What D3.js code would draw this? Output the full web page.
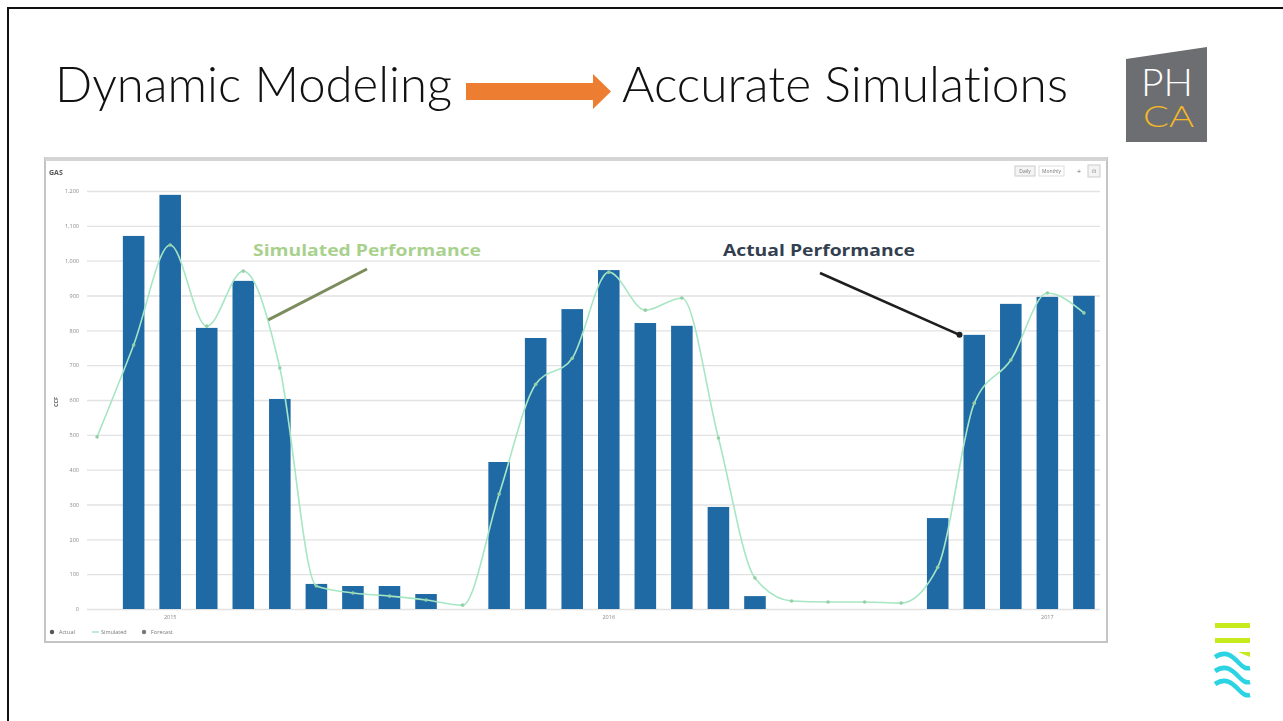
<!DOCTYPE html>
<html>
<head>
<meta charset="utf-8">
<script src="https://cdn.jsdelivr.net/npm/d3@7"></script>
<style>
  html, body { margin: 0; padding: 0; background: #fff; }
  svg { display: block; }
  text { font-variant-ligatures: none; }
</style>
</head>
<body>
<svg id="slide" width="1283" height="721"></svg>
<script>
// Monthly gas usage: metered (actual) vs. modeled (simulated)
const months = [
  "2014-11","2014-12","2015-01","2015-02","2015-03","2015-04","2015-05",
  "2015-06","2015-07","2015-08","2015-09","2015-10","2015-11","2015-12",
  "2016-01","2016-02","2016-03","2016-04","2016-05","2016-06","2016-07",
  "2016-08","2016-09","2016-10","2016-11","2016-12","2017-01","2017-02"
];
const actual = [
  null, 1071, 1189, 807, 942, 603, 72,
  66, 66, 43, null, 422, 778, 861,
  973, 821, 813, 293, 37, null, null,
  null, null, 261, 787, 876, 896, 899
];
const simulated = [
  494, 758, 1045, 812, 970, 692, 66,
  46, 37, 26, 11, 330, 645, 720,
  967, 858, 893, 491, 89, 23, 20,
  20, 17, 120, 591, 715, 907, 850
];
const yTicks = [0, 100, 200, 300, 400, 500, 600, 700, 800, 900, 1000, 1100, 1200];
const yearTicks = ["2015-01", "2016-01", "2017-01"];
const legendItems = ["Actual", "Simulated", "Forecast"];

const svg = d3.select("#slide");

// slide frame
svg.append("path").attr("d", "M8,721 V8 H1283")
  .attr("fill", "none").attr("stroke", "#111").attr("stroke-width", 2);

// headline with arrow
const titleFont = "Lato, 'Open Sans', sans-serif";
svg.append("text").attr("x", 55).attr("y", 102)
  .attr("font-family", titleFont).attr("font-weight", 300).attr("font-size", 50)
  .attr("textLength", 397).attr("lengthAdjust", "spacingAndGlyphs")
  .attr("fill", "#111").text("Dynamic Modeling");
svg.append("text").attr("x", 622).attr("y", 102)
  .attr("font-family", titleFont).attr("font-weight", 300).attr("font-size", 50)
  .attr("textLength", 446).attr("lengthAdjust", "spacingAndGlyphs")
  .attr("fill", "#111").text("Accurate Simulations");
svg.append("path")
  .attr("d", "M466,83 H593 V74 L611,91.5 L593,109 V100 H466 Z")
  .attr("fill", "#ED7D31");

// PHCA mark
const phca = svg.append("g");
phca.append("path").attr("d", "M1126,59 L1207,47 V142 H1126 Z").attr("fill", "#6d6e71");
phca.append("text").attr("x", 1141).attr("y", 96).attr("font-size", 37)
  .attr("font-family", titleFont).attr("font-weight", 300)
  .attr("textLength", 52).attr("lengthAdjust", "spacingAndGlyphs")
  .attr("fill", "#fff").text("PH");
phca.append("text").attr("x", 1143).attr("y", 127).attr("font-size", 29)
  .attr("font-family", titleFont).attr("font-weight", 300)
  .attr("textLength", 51).attr("lengthAdjust", "spacingAndGlyphs")
  .attr("fill", "#f4b926").text("CA");

// wave mark, bottom right
const wave = svg.append("g");
wave.append("rect").attr("x", 1215).attr("y", 623).attr("width", 35).attr("height", 5).attr("fill", "#c6ea1c");
wave.append("rect").attr("x", 1215).attr("y", 638).attr("width", 35).attr("height", 5).attr("fill", "#c6ea1c");
wave.append("path").attr("d", "M1238,652 H1250 V657 Z").attr("fill", "#c6ea1c");
[0, 14, 27].forEach(dy => {
  wave.append("path")
    .attr("d", `M1215,${657 + dy} C1226,${650 + dy} 1232,${656 + dy} 1238,${662 + dy} S1246,${669 + dy} 1250,${668 + dy}`)
    .attr("fill", "none").attr("stroke", "#2cd3e3").attr("stroke-width", 4.5);
});

// chart panel
const panel = svg.append("g");
panel.append("rect").attr("x", 45).attr("y", 158).attr("width", 1062).attr("height", 484)
  .attr("fill", "#fff").attr("stroke", "#c4c4c4").attr("stroke-width", 2);
panel.append("rect").attr("x", 45).attr("y", 157).attr("width", 1062).attr("height", 4).attr("fill", "#d4d4d4");

const soft = svg.append("defs").append("filter").attr("id", "soft");
soft.append("feGaussianBlur").attr("stdDeviation", 0.55);

const x = d3.scaleBand().domain(months).range([79, 1102]).paddingInner(0.41).paddingOuter(0.2);
const y = d3.scaleLinear().domain([0, 1200]).range([609, 191]);
const cx = m => x(m) + x.bandwidth() / 2;
const gridLeft = 87, gridRight = 1100;

const chart = panel.append("g");

// grid + value axis
const yAxis = d3.axisLeft(y).tickValues(yTicks).tickSize(-(gridRight - gridLeft))
  .tickPadding(8).tickFormat(d3.format(","));
chart.append("g").attr("transform", `translate(${gridLeft},0)`)
  .call(yAxis)
  .call(g => g.select(".domain").remove())
  .call(g => g.selectAll(".tick line").attr("stroke", "#e2e2e2").attr("stroke-width", 1.4))
  .call(g => g.selectAll(".tick text").attr("fill", "#888").attr("font-size", 5.5)
    .attr("font-family", "'Open Sans', sans-serif").attr("filter", "url(#soft)"));

// year axis
const xAxis = d3.axisBottom(x).tickValues(yearTicks).tickSize(0).tickPadding(5)
  .tickFormat(m => m.slice(0, 4));
chart.append("g").attr("transform", "translate(0,610)")
  .call(xAxis)
  .call(g => g.select(".domain").remove())
  .call(g => g.selectAll(".tick text").attr("fill", "#888").attr("font-size", 5.5)
    .attr("font-family", "'Open Sans', sans-serif").attr("filter", "url(#soft)"));

// labels inside the panel
chart.append("text").attr("x", 49).attr("y", 175).attr("font-size", 7).attr("font-weight", 700)
  .attr("font-family", "'Open Sans', sans-serif").attr("fill", "#555").attr("filter", "url(#soft)").text("GAS");
chart.append("text").attr("transform", "translate(58,402) rotate(-90)").attr("text-anchor", "middle")
  .attr("font-size", 5.5).attr("font-weight", 700).attr("font-family", "'Open Sans', sans-serif")
  .attr("fill", "#555").attr("filter", "url(#soft)").text("CCF");

// bars
chart.append("g").selectAll("rect")
  .data(months.map((m, i) => ({ m, v: actual[i] })).filter(d => d.v !== null))
  .join("rect")
  .attr("x", d => x(d.m)).attr("width", x.bandwidth())
  .attr("y", d => y(d.v)).attr("height", d => y(0) - y(d.v))
  .attr("fill", "#1f6aa5");

// simulated line
const simData = months.map((m, i) => ({ m, v: simulated[i] }));
chart.append("path").datum(simData)
  .attr("d", d3.line().x(d => cx(d.m)).y(d => y(d.v)).curve(d3.curveMonotoneX))
  .attr("fill", "none").attr("stroke", "#a6e6c4").attr("stroke-width", 1.6);
chart.append("g").selectAll("circle").data(simData).join("circle")
  .attr("cx", d => cx(d.m)).attr("cy", d => y(d.v)).attr("r", 1.8)
  .attr("fill", "#95cfa6");

// legend
const legend = chart.append("g").attr("font-family", "'Open Sans', sans-serif").attr("font-size", 5.5)
  .attr("fill", "#777").attr("filter", "url(#soft)");
const legendX = [50, 92, 142];
legendItems.forEach((name, i) => {
  if (i === 1) {
    legend.append("line").attr("x1", legendX[i]).attr("x2", legendX[i] + 7).attr("y1", 632).attr("y2", 632)
      .attr("stroke", "#a6e6c4").attr("stroke-width", 1.5);
  } else {
    legend.append("circle").attr("cx", legendX[i] + 2).attr("cy", 632).attr("r", 2.2)
      .attr("fill", i === 0 ? "#555" : "#777");
  }
  legend.append("text").attr("x", legendX[i] + 9).attr("y", 634).text(name);
});

// view controls, top right
const ctl = chart.append("g").attr("font-family", "'Open Sans', sans-serif").attr("font-size", 5)
  .attr("fill", "#777").attr("filter", "url(#soft)");
ctl.append("rect").attr("x", 1015).attr("y", 166).attr("width", 20).attr("height", 10)
  .attr("fill", "#f4f4f4").attr("stroke", "#ccc");
ctl.append("text").attr("x", 1025).attr("y", 173).attr("text-anchor", "middle").text("Daily");
ctl.append("rect").attr("x", 1039).attr("y", 166).attr("width", 25).attr("height", 10)
  .attr("fill", "#fff").attr("stroke", "#ddd");
ctl.append("text").attr("x", 1051.5).attr("y", 173).attr("text-anchor", "middle").text("Monthly");
ctl.append("text").attr("x", 1079).attr("y", 174).attr("text-anchor", "middle").attr("font-size", 8).text("+");
ctl.append("rect").attr("x", 1088).attr("y", 165).attr("width", 12).attr("height", 12)
  .attr("fill", "#f4f4f4").attr("stroke", "#ccc");
ctl.append("text").attr("x", 1094).attr("y", 173).attr("text-anchor", "middle").text("⊡");

// callouts
const callFont = "'Open Sans', Lato, sans-serif";
chart.append("text").attr("x", 253).attr("y", 256).attr("font-family", callFont)
  .attr("font-weight", 700).attr("font-size", 16.5).attr("textLength", 228).attr("lengthAdjust", "spacingAndGlyphs")
  .attr("fill", "#a9d18e").text("Simulated Performance");
chart.append("line").attr("x1", 367).attr("y1", 269)
  .attr("x2", cx(months[4]) + 25).attr("y2", y(830))
  .attr("stroke", "#7d8c5c").attr("stroke-width", 3);

chart.append("text").attr("x", 723).attr("y", 256).attr("font-family", callFont)
  .attr("font-weight", 700).attr("font-size", 16.5).attr("textLength", 192).attr("lengthAdjust", "spacingAndGlyphs")
  .attr("fill", "#333f50").text("Actual Performance");
const tipX = x(months[24]) - 4, tipY = y(actual[24]);
chart.append("line").attr("x1", 820).attr("y1", 273).attr("x2", tipX).attr("y2", tipY)
  .attr("stroke", "#1e1e1e").attr("stroke-width", 2.5);
chart.append("circle").attr("cx", tipX).attr("cy", tipY).attr("r", 3).attr("fill", "#1e1e1e");
</script>
</body>
</html>
